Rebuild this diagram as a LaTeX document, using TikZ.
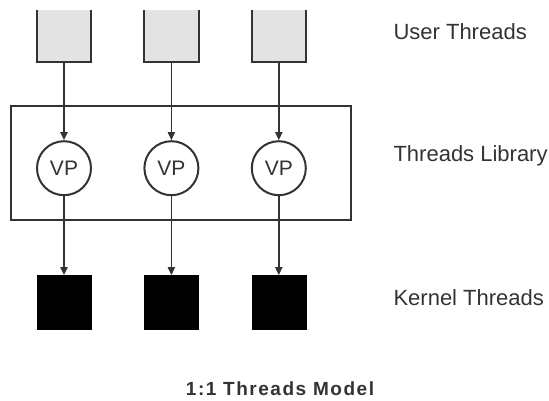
\documentclass[tikz,border=0pt]{standalone}
\usepackage{fontspec}
\setmainfont{Liberation Sans}
\usetikzlibrary{arrows.meta,positioning}
\definecolor{userfill}{HTML}{E3E3E3}
\definecolor{linegray}{HTML}{333333}

\begin{document}
\begin{tikzpicture}[
  x=1pt, y=1pt,
  node distance=78pt and 53pt,
  ubox/.style={fill=userfill, minimum width=54pt, minimum height=52pt, inner sep=0pt},
  kbox/.style={fill=black, draw=black, minimum width=54pt, minimum height=54pt, inner sep=0pt},
  vp/.style={circle, draw=linegray, line width=2pt, minimum size=54pt, inner sep=0pt, text=linegray, font=\fontsize{21}{24}\selectfont},
  lbl/.style={anchor=west, text=linegray, font=\fontsize{22}{26}\selectfont},
  arr/.style={-{Triangle[length=8pt,width=7pt]}, line width=1.8pt, draw=linegray},
]
  \useasboundingbox (0,0) rectangle (549,-400);

  % User threads (open at the top)
  \node[ubox] (u1) at (64,-36) {};
  \node[ubox, right=53pt of u1] (u2) {};
  \node[ubox, right=53pt of u2] (u3) {};
  \foreach \u in {u1,u2,u3}
    \draw[linegray, line width=2pt] (\u.north west) -- (\u.south west) -- (\u.south east) -- (\u.north east);

  % Threads library
  \node[draw=linegray, line width=2pt, minimum width=340pt, minimum height=114pt] (lib) at (181,-163) {};
  \node[vp, below=78pt of u1] (v1) {VP};
  \node[vp, below=78pt of u2] (v2) {VP};
  \node[vp, below=78pt of u3] (v3) {VP};

  % Kernel threads
  \node[kbox, below=79pt of v1] (k1) {};
  \node[kbox, below=79pt of v2] (k2) {};
  \node[kbox, below=79pt of v3] (k3) {};

  \foreach \i in {1,2,3} {
    \draw[arr] (u\i) -- (v\i);
    \draw[arr] (v\i) -- (k\i);
  }

  % Labels
  \node[lbl] (lu) at (390,-32) {User Threads};
  \node[lbl] (ll) at (390,-156) {Threads Library};
  \node[lbl] (lk) at (390,-298) {Kernel Threads};
  \node[text=linegray, font=\fontsize{19}{22}\selectfont\bfseries\addfontfeature{LetterSpace=8}] (title) at (280,-389) {1:1 Threads Model};
\end{tikzpicture}
\end{document}
